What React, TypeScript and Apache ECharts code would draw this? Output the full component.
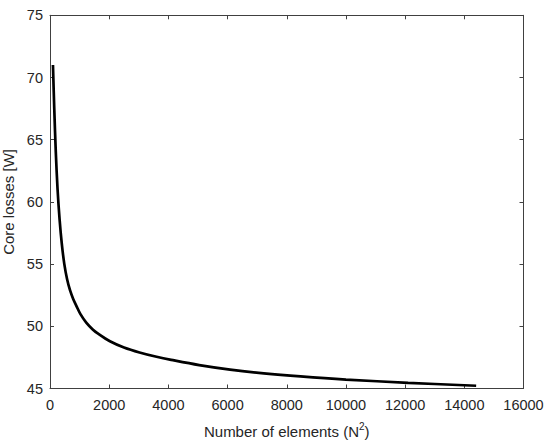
import React, { useEffect, useRef } from "react";
import * as echarts from "echarts";

const elementCounts = [100, 144, 196, 256, 324, 400, 484, 576, 676, 784, 900, 1024, 1225, 1444, 1600, 2025, 2500, 3025, 3600, 4096, 5041, 6084, 7225, 8464, 10000, 12100, 14400];
const coreLosses = [71.0, 67.5, 64.0, 61.0, 58.6, 56.6, 55.0, 53.8, 52.9, 52.2, 51.6, 51.0, 50.3, 49.75, 49.45, 48.8, 48.3, 47.9, 47.55, 47.3, 46.88, 46.52, 46.22, 45.97, 45.72, 45.46, 45.22];

const xMin = 0;
const xMax = 16000;
const xStep = 2000;
const yMin = 45;
const yMax = 75;
const yStep = 5;

export default function App() {
  const ref = useRef<HTMLDivElement>(null);
  useEffect(() => {
    if (!ref.current) return;
    const chart = echarts.init(ref.current, undefined, { renderer: "svg" });
    const font = "'Liberation Sans', Arial, sans-serif";
    const lineColor = "#404040";
    const textColor = "#262626";
    const baseAxis = {
      axisLine: { show: true, onZero: false, lineStyle: { color: lineColor, width: 1 } },
      axisTick: { show: true, inside: true, length: 4, lineStyle: { color: lineColor } },
      splitLine: { show: false },
    };
    chart.setOption({
      animation: false,
      grid: { left: 50, right: 26.5, top: 15.3, bottom: 57.5, containLabel: false, outerBoundsMode: "none" },
      xAxis: [
        {
          ...baseAxis,
          type: "value",
          min: xMin,
          max: xMax,
          interval: xStep,
          position: "bottom",
          axisLabel: { color: textColor, fontSize: 14.5, fontFamily: font, margin: 9, formatter: (v: number) => String(v) },
          name: "Number of elements (N{sup|2})",
          nameLocation: "middle",
          nameGap: 33,
          nameTextStyle: {
            color: textColor,
            fontSize: 15,
            fontFamily: font,
            rich: {
              sup: { fontSize: 10, verticalAlign: "top", padding: [0, 0, 9, 0], color: textColor, fontFamily: font },
            },
          },
        },
        {
          ...baseAxis,
          type: "value",
          min: xMin,
          max: xMax,
          interval: xStep,
          position: "top",
          axisLabel: { show: false },
        },
      ],
      yAxis: [
        {
          ...baseAxis,
          type: "value",
          min: yMin,
          max: yMax,
          interval: yStep,
          position: "left",
          axisLabel: { color: textColor, fontSize: 14.5, fontFamily: font, margin: 7, formatter: (v: number) => String(v) },
          name: "Core losses [W]",
          nameLocation: "middle",
          nameGap: 34,
          nameTextStyle: { color: textColor, fontSize: 15, fontFamily: font },
        },
        {
          ...baseAxis,
          type: "value",
          min: yMin,
          max: yMax,
          interval: yStep,
          position: "right",
          axisLabel: { show: false },
        },
      ],
      series: [
        {
          type: "line",
          data: elementCounts.map((x, i) => [x, coreLosses[i]]),
          showSymbol: false,
          smooth: 0.35,
          lineStyle: { color: "#000000", width: 2.7 },
          itemStyle: { color: "#000000" },
        },
      ],
    });
    return () => chart.dispose();
  }, []);
  return (
    <div
      ref={ref}
      style={{ position: "fixed", left: 0, top: 0, width: 550, height: 446, background: "#ffffff" }}
    />
  );
}
